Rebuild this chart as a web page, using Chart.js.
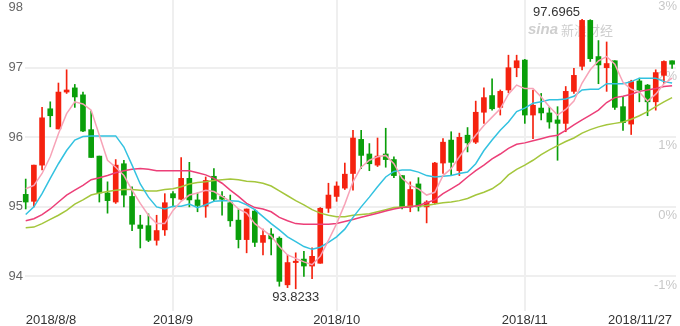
<!DOCTYPE html>
<html><head><meta charset="utf-8">
<script src="https://cdn.jsdelivr.net/npm/chart.js@4.4.0/dist/chart.umd.min.js"></script>
<style>html,body{margin:0;padding:0;background:#fff;}#wrap{width:680px;height:326px;}</style>
</head><body><div id="wrap"><canvas id="c" width="680" height="326"></canvas></div>
<script>
const dates = ['2018/8/8','2018/8/9','2018/8/10','2018/8/13','2018/8/14','2018/8/15','2018/8/16','2018/8/17','2018/8/20','2018/8/21','2018/8/22','2018/8/23','2018/8/24','2018/8/27','2018/8/28','2018/8/29','2018/8/30','2018/8/31',
'2018/9/3','2018/9/4','2018/9/5','2018/9/6','2018/9/7','2018/9/10','2018/9/11','2018/9/12','2018/9/13','2018/9/14','2018/9/17','2018/9/18','2018/9/19','2018/9/20','2018/9/21','2018/9/24','2018/9/25','2018/9/26','2018/9/27','2018/9/28',
'2018/10/1','2018/10/2','2018/10/3','2018/10/4','2018/10/5','2018/10/8','2018/10/9','2018/10/10','2018/10/11','2018/10/12','2018/10/15','2018/10/16','2018/10/17','2018/10/18','2018/10/19','2018/10/22','2018/10/23','2018/10/24','2018/10/25','2018/10/26','2018/10/29','2018/10/30','2018/10/31',
'2018/11/1','2018/11/2','2018/11/5','2018/11/6','2018/11/7','2018/11/8','2018/11/9','2018/11/12','2018/11/13','2018/11/14','2018/11/15','2018/11/16','2018/11/19','2018/11/20','2018/11/21','2018/11/22','2018/11/23','2018/11/26','2018/11/27'];

const openP = [95.18,95.08,95.60,96.41,96.12,96.65,96.71,96.61,96.11,95.73,
95.20,95.07,95.62,95.15,94.74,94.73,94.52,94.67,95.19,95.11,
95.41,95.10,95.01,95.44,95.15,95.06,94.81,94.53,94.94,94.49,
94.61,94.55,93.88,94.20,94.25,94.15,94.19,94.98,95.15,95.27,
95.48,95.97,95.76,95.60,95.76,95.68,95.45,95.00,95.33,95.00,
95.06,95.63,95.96,95.52,96.03,95.93,96.36,96.60,96.43,96.68,
97.00,97.11,96.32,96.42,96.35,96.25,96.20,96.66,97.02,97.68,
97.16,97.00,97.10,96.44,96.19,96.81,96.75,96.51,96.89,97.10];
const highP = [95.40,95.60,96.43,96.51,96.78,96.97,96.76,96.65,96.38,95.73,
95.36,95.68,95.67,95.29,94.88,94.90,94.88,95.19,95.22,95.71,
95.64,95.20,95.43,95.55,95.22,95.17,94.96,94.97,94.96,94.68,
94.69,94.57,94.31,94.34,94.36,94.41,94.99,95.34,95.36,95.63,
96.10,96.10,95.91,95.99,96.13,95.72,95.45,95.36,95.42,95.09,
95.64,95.98,96.08,96.06,96.14,96.52,96.71,96.84,96.68,97.18,
97.18,97.12,96.68,96.63,96.43,96.44,96.73,96.99,97.6965,97.69,
97.39,97.37,97.10,96.58,96.82,96.85,96.76,96.97,97.10,97.10];
const lowP = [94.97,95.00,95.53,96.15,96.12,96.63,96.43,96.08,95.71,95.07,
94.91,95.05,95.00,94.66,94.41,94.50,94.45,94.59,95.00,95.10,
95.00,94.93,94.85,95.08,94.88,94.72,94.41,94.34,94.43,94.31,
94.31,93.86,93.84,93.8233,94.00,93.97,94.19,94.92,95.08,95.25,
95.24,95.55,95.52,95.58,95.57,95.42,94.97,94.93,94.94,94.77,
95.04,95.48,95.45,95.45,95.79,95.91,96.20,96.39,96.32,96.64,
96.87,96.20,95.98,96.25,96.13,95.67,96.08,96.63,96.97,97.09,
96.77,96.66,96.40,96.10,96.04,96.51,96.31,96.39,96.77,96.99];
const closeP = [95.07,95.60,96.28,96.31,96.65,96.68,96.58,96.09,95.71,95.20,
95.09,95.60,95.17,94.75,94.69,94.52,94.66,95.06,95.13,95.41,
95.10,95.02,95.38,95.11,95.11,94.80,94.53,94.97,94.49,94.59,
94.54,93.93,94.20,94.22,94.15,94.29,94.98,95.17,95.30,95.47,
95.99,95.74,95.62,95.73,95.68,95.45,95.00,95.25,95.00,95.07,
95.63,95.93,95.64,96.00,95.92,96.36,96.57,96.41,96.66,97.00,
97.10,96.32,96.46,96.35,96.22,96.20,96.66,96.89,97.68,97.13,
97.04,97.06,96.43,96.21,96.80,96.68,96.51,96.93,97.09,97.05];

const ma5 = [95.26,95.31,95.48,95.72,96.05,96.34,96.51,96.48,96.39,96.03,
95.67,95.57,95.45,95.24,95.05,94.88,94.76,94.76,94.95,95.08,
95.17,95.20,95.24,95.22,95.15,95.08,94.97,94.91,94.76,94.67,
94.58,94.43,94.31,94.26,94.21,94.17,94.29,94.52,94.76,95.04,
95.36,95.57,95.67,95.72,95.74,95.62,95.41,95.31,95.26,95.17,
95.21,95.45,95.55,95.72,95.88,96.03,96.17,96.29,96.41,96.62,
96.75,96.70,96.70,96.58,96.44,96.32,96.40,96.52,96.78,96.97,
97.10,97.16,97.05,96.79,96.69,96.65,96.52,96.62,96.77,96.85];
const ma10 = [94.89,95.00,95.19,95.41,95.62,95.81,95.96,96.01,96.02,96.02,
96.02,96.02,95.86,95.60,95.33,95.14,95.00,94.97,95.01,95.01,
95.04,94.99,95.03,95.08,95.09,95.09,95.08,95.03,94.96,94.86,
94.76,94.67,94.57,94.50,94.43,94.39,94.42,94.49,94.57,94.68,
94.85,95.00,95.14,95.29,95.43,95.51,95.53,95.53,95.50,95.45,
95.43,95.44,95.45,95.48,95.50,95.62,95.81,95.96,96.10,96.22,
96.37,96.42,96.49,96.51,96.54,96.54,96.55,96.59,96.68,96.69,
96.69,96.77,96.77,96.77,96.80,96.85,96.85,96.85,96.80,96.78];
const ma20 = [94.80,94.83,94.89,94.97,95.07,95.17,95.24,95.31,95.39,95.42,
95.45,95.49,95.52,95.54,95.55,95.54,95.52,95.52,95.52,95.52,
95.52,95.49,95.46,95.41,95.34,95.24,95.15,95.05,94.99,94.97,
94.93,94.85,94.80,94.76,94.75,94.75,94.75,94.75,94.76,94.79,
94.82,94.85,94.88,94.91,94.94,94.97,94.99,95.00,95.02,95.06,
95.10,95.19,95.26,95.33,95.43,95.52,95.60,95.69,95.76,95.84,
95.90,95.92,95.95,95.98,96.01,96.03,96.10,96.18,96.25,96.32,
96.39,96.50,96.57,96.59,96.62,96.66,96.68,96.70,96.73,96.74];
const ma30 = [94.70,94.71,94.76,94.82,94.88,94.95,95.04,95.10,95.17,95.20,
95.22,95.24,95.25,95.25,95.24,95.23,95.23,95.25,95.26,95.29,
95.33,95.35,95.36,95.38,95.39,95.40,95.39,95.37,95.36,95.34,
95.30,95.23,95.16,95.09,95.03,94.96,94.91,94.88,94.86,94.86,
94.88,94.89,94.90,94.93,94.96,94.99,95.00,95.01,95.01,95.02,
95.04,95.06,95.07,95.09,95.12,95.17,95.21,95.26,95.34,95.46,
95.54,95.60,95.67,95.75,95.82,95.88,95.94,95.99,96.06,96.11,
96.15,96.18,96.20,96.22,96.26,96.31,96.37,96.44,96.51,96.57];

const xTickIndex = [0, 18, 38, 61, 79];
const xTickLabels = ['2018/8/8', '2018/9', '2018/10', '2018/11', '2018/11/27'];
const yTickValues = [94, 95, 96, 97, 98];
const yTickLabels = ['94', '95', '96', '97', '98'];
const pctTickLabels = ['-1%', '0%', '1%', '2%', '3%'];

const UP = '#f5220f', DOWN = '#0a9f0a';
const FONT = '"Liberation Sans", Arial, sans-serif';
const candleColor = dates.map((d, i) => closeP[i] >= openP[i] ? UP : DOWN);

const annot = {
  id: 'annot',
  beforeDatasetsDraw(chart) {
    const ctx = chart.ctx;
    ctx.save();
    ctx.fillStyle = '#cfcfcf';
    ctx.textBaseline = 'middle';
    ctx.textAlign = 'left';
    ctx.font = 'italic bold 15px ' + FONT;
    ctx.fillText('sina', 528, 30);
    ctx.font = '13px "Noto Sans CJK SC"';
    ctx.fillText('新浪财经', 561, 30);
    ctx.restore();
  },
  afterDatasetsDraw(chart) {
    const ctx = chart.ctx, xs = chart.scales.x, ys = chart.scales.y;
    let hi = 0, lo = 0;
    highP.forEach((v, i) => { if (v > highP[hi]) hi = i; });
    lowP.forEach((v, i) => { if (v < lowP[lo]) lo = i; });
    ctx.save();
    ctx.fillStyle = '#333';
    ctx.font = '13px ' + FONT;
    ctx.textAlign = 'right';
    ctx.textBaseline = 'alphabetic';
    ctx.fillText(highP[hi].toFixed(4), xs.getPixelForValue(hi) - 2, ys.getPixelForValue(highP[hi]) - 3);
    ctx.textAlign = 'center';
    ctx.textBaseline = 'top';
    ctx.fillText(lowP[lo].toFixed(4), xs.getPixelForValue(lo), ys.getPixelForValue(lowP[lo]) + 2);
    ctx.restore();
  }
};

const yMin = 93.504, yMax = 97.973;

new Chart(document.getElementById('c'), {
  type: 'bar',
  data: {
    datasets: [
      { type: 'line', label: 'MA5', data: ma5.map((v, i) => ({x: i, y: v})), borderColor: '#f7a3b7', borderWidth: 1.5, pointRadius: 0, tension: 0, order: 0 },
      { type: 'line', label: 'MA10', data: ma10.map((v, i) => ({x: i, y: v})), borderColor: '#33c2e0', borderWidth: 1.5, pointRadius: 0, tension: 0, order: 0 },
      { type: 'line', label: 'MA20', data: ma20.map((v, i) => ({x: i, y: v})), borderColor: '#ec3f78', borderWidth: 1.5, pointRadius: 0, tension: 0, order: 0 },
      { type: 'line', label: 'MA30', data: ma30.map((v, i) => ({x: i, y: v})), borderColor: '#a4c63c', borderWidth: 1.5, pointRadius: 0, tension: 0, order: 0 },
      { label: 'body', data: dates.map((d, i) => ({x: i, y: [openP[i], closeP[i]]})), backgroundColor: candleColor, barThickness: 5, minBarLength: 1, grouped: false, clip: false, order: 1 },
      { label: 'wick', data: dates.map((d, i) => ({x: i, y: [lowP[i], highP[i]]})), backgroundColor: candleColor, barThickness: 1, grouped: false, clip: false, order: 2 }
    ]
  },
  options: {
    responsive: false,
    animation: false,
    devicePixelRatio: 1,
    layout: { padding: 0 },
    plugins: { legend: { display: false }, tooltip: { enabled: false } },
    scales: {
      x: {
        type: 'linear', min: -0.086, max: 79.477, offset: false,
        afterBuildTicks: s => { s.ticks = xTickIndex.map(v => ({value: v})); },
        afterFit: s => { s.height = 15; s.paddingLeft = 0; s.paddingRight = 0; },
        ticks: { autoSkip: false, maxRotation: 0, align: 'inner', padding: 2, color: '#333',
          font: { family: FONT, size: 13 },
          callback: v => xTickLabels[xTickIndex.indexOf(v)] },
        grid: { offset: false, drawTicks: false, lineWidth: 2,
          color: c => (c.tick && (c.tick.value === 0 || c.tick.value === 79)) ? 'rgba(0,0,0,0)' : '#efefef' },
        border: { display: false }
      },
      y: {
        position: 'left', min: yMin, max: yMax,
        afterBuildTicks: s => { s.ticks = yTickValues.map(v => ({value: v})); },
        afterFit: s => { s.width = 25; s.paddingTop = 0; s.paddingBottom = 0; },
        ticks: { padding: 2, color: '#666', font: { family: FONT, size: 13, lineHeight: 1.4 },
          callback: (v, i) => i === yTickValues.length - 1 ? ['', yTickLabels[i]] : yTickLabels[i] },
        grid: { drawTicks: false, lineWidth: 2, color: '#efefef' },
        border: { display: false }
      },
      y2: {
        position: 'right', min: yMin, max: yMax,
        afterBuildTicks: s => { s.ticks = yTickValues.map(v => ({value: v})); },
        afterFit: s => { s.width = 4; s.paddingTop = 0; s.paddingBottom = 0; },
        ticks: { mirror: true, padding: 1, labelOffset: 8.5, color: '#c8c8c8', font: { family: FONT, size: 13 },
          callback: (v, i) => pctTickLabels[i] },
        grid: { display: false, drawTicks: false },
        border: { display: false }
      }
    }
  },
  plugins: [annot]
});
</script>
</body></html>
